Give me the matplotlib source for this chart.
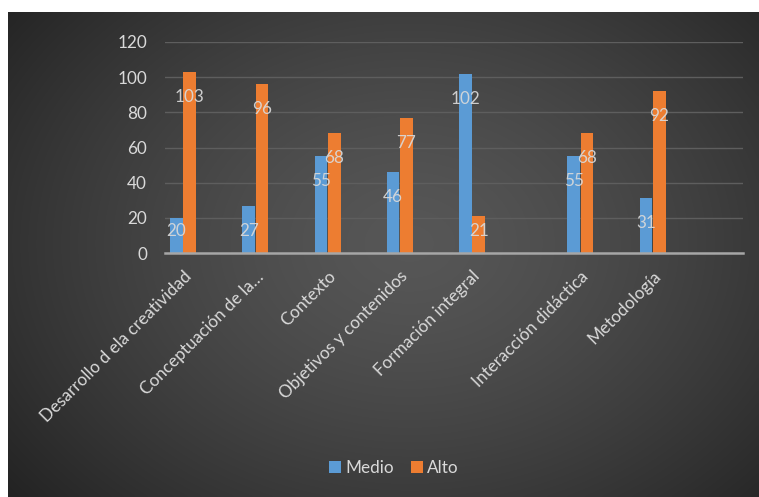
import numpy as np
import matplotlib
matplotlib.use("Agg")
import matplotlib.pyplot as plt

categories = ["Desarrollo d ela creatividad", "Conceptuación de la…", "Contexto",
              "Objetivos y contenidos", "Formación integral", "Interacción didáctica",
              "Metodología"]
medio = [20, 27, 55, 46, 102, 55, 31]
alto = [103, 96, 68, 77, 21, 68, 92]
yticks = [0, 20, 40, 60, 80, 100, 120]

plt.rcParams['font.family'] = ['Lato', 'DejaVu Sans']
txt = '#d9d9d9'
fs = 12.3
W, H = 759, 497
fig = plt.figure(figsize=(W / 100, H / 100), dpi=100)
fig.patch.set_facecolor('white')

# background radial gradient panel
bg = fig.add_axes([8 / W, 0, 1 - 8 / W, 1 - 12 / H])
bg.set_axis_off()
yy, xx = np.mgrid[0:200, 0:300]
cx, cy = 160, 95
r = np.sqrt(((xx - cx) / 190) ** 2 + ((yy - cy) / 150) ** 2)
v = 0.34 - 0.18 * np.clip(r, 0, 1.2) ** 1.4
img = np.dstack([v, v, v])
bg.imshow(np.clip(img, 0, 1), aspect='auto', extent=[0, 1, 0, 1], interpolation='bicubic')
bg.set_xlim(0, 1); bg.set_ylim(0, 1)

ax = fig.add_axes([165 / W, 1 - 253 / H, (743 - 165) / W, (253 - 42) / H])
ax.patch.set_alpha(0)
n = len(categories)
idx = np.arange(n)
x = idx + np.where(idx >= 5, 0.5, 0.0)
bw = 0.175
off = 0.092
c_blue = '#5b9bd5'
c_orange = '#ed7d31'
b1 = ax.bar(x - off, medio, bw, color=c_blue, label='Medio', zorder=3)
b2 = ax.bar(x + off, alto, bw, color=c_orange, label='Alto', zorder=3)

for xs, vals in ((x - off, medio), (x + off, alto)):
    for xi, vi in zip(xs, vals):
        ax.annotate(str(vi), xy=(xi, max(vi, 27)), xytext=(0, -18), textcoords='offset points',
                    ha='center', va='center', color=txt, fontsize=fs, alpha=0.92, zorder=4)

ax.set_xlim(-0.25, 7.75)
ax.set_ylim(0, 120)
ax.set_yticks(yticks)
ax.set_yticklabels([str(t) for t in yticks], color=txt, fontsize=fs)
ax.grid(axis='y', color='#5e5e5e', linewidth=1.0, zorder=0)
ax.set_axisbelow(True)
for s in ['top', 'right', 'left']:
    ax.spines[s].set_visible(False)
ax.spines['bottom'].set_color('#a6a6a6')
ax.spines['bottom'].set_linewidth(1.8)
ax.spines['bottom'].set_zorder(5)
ax.tick_params(axis='y', length=0, pad=13)
ax.tick_params(axis='x', length=0, pad=11)
ax.set_xticks(x)
ax.set_xticklabels(categories, rotation=45, ha='right', va='top', rotation_mode='anchor',
                   color=txt, fontsize=fs)

fig.legend(handles=[b1, b2], labels=['Medio', 'Alto'], loc='center', bbox_to_anchor=(394 / W, 1 - 468 / H),
           ncol=2, frameon=False, fontsize=fs, labelcolor=txt, handlelength=0.7, handleheight=0.7,
           handletextpad=0.25, columnspacing=1.0)

fig.savefig('out.png', dpi=100, facecolor='white')
